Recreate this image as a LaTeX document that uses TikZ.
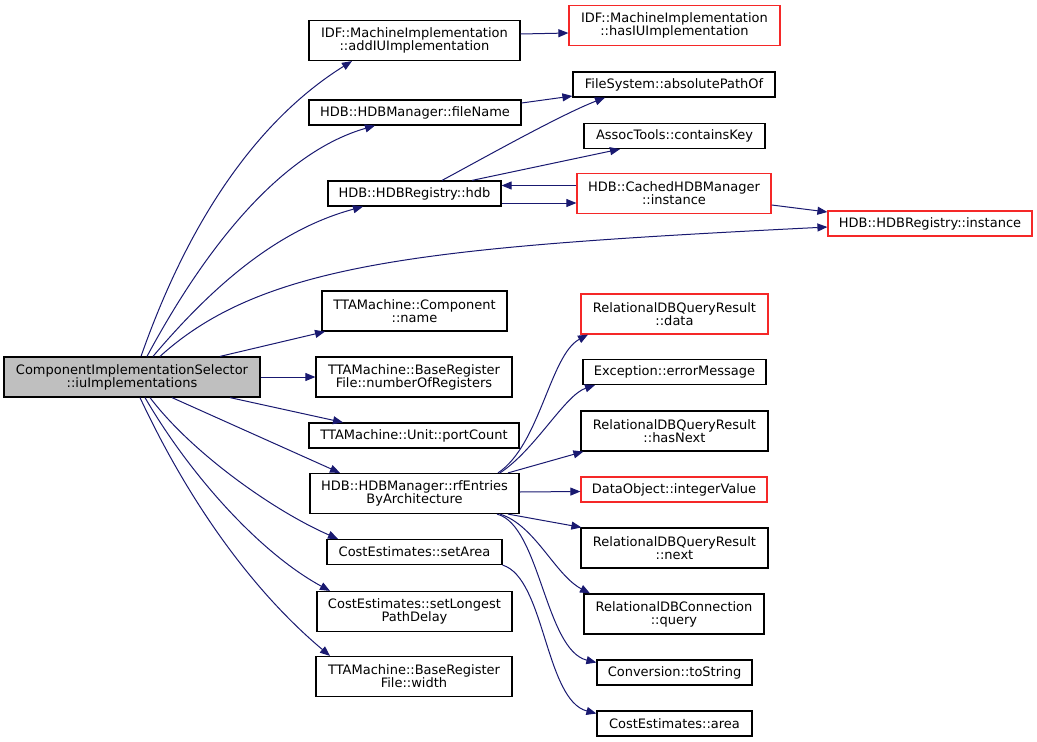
\documentclass[tikz,border=0pt]{standalone}
\usepackage{fontspec}
\setmainfont{DejaVu Sans}
\usepackage{xcolor}
\usetikzlibrary{arrows.meta}
\definecolor{callblue}{RGB}{25,25,112}
\definecolor{selgray}{RGB}{191,191,191}
\definecolor{cutred}{RGB}{245,40,40}
\tikzset{every node/.append style={font=\fontsize{13}{13}\selectfont}}

\begin{document}
\begin{tikzpicture}[x=1pt, y=-1pt, >={Triangle[length=10pt, width=8pt]},
    func/.style={draw, line width=1.2pt, inner sep=0pt, minimum height=25pt, align=center},
    func2/.style={func, minimum height=40pt},
    trunc/.style={draw=cutred},
    call/.style={->, draw=callblue, line width=1pt}]
    \useasboundingbox (0,0) rectangle (1037,742);
    % the function whose calls are shown
    \node[func2, fill=selgray, minimum width=256pt] (main) at (132,377) {ComponentImplementationSelector\\::iuImplementations};
    % direct callees
    \node[func2, minimum width=211pt] (addIU) at (414.5,40.5) {IDF::MachineImplementation\\::addIUImplementation};
    \node[func, minimum width=212pt] (fileName) at (415,112.5) {HDB::HDBManager::fileName};
    \node[func, minimum width=173pt] (hdb) at (414.5,193.5) {HDB::HDBRegistry::hdb};
    \node[func2, minimum width=185pt] (compName) at (414.5,311) {TTAMachine::Component\\::name};
    \node[func2, minimum width=196pt] (numRegs) at (414,377) {TTAMachine::BaseRegister\\File::numberOfRegisters};
    \node[func, minimum width=210pt] (portCount) at (414,435.5) {TTAMachine::Unit::portCount};
    \node[func2, minimum width=209pt] (rfEntries) at (414.5,493.5) {HDB::HDBManager::rfEntries\\ByArchitecture};
    \node[func, minimum width=175pt] (setArea) at (414.5,552) {CostEstimates::setArea};
    \node[func2, minimum width=195pt] (setLPD) at (414.5,611.5) {CostEstimates::setLongest\\PathDelay};
    \node[func2, minimum width=196pt] (width) at (414,676.5) {TTAMachine::BaseRegister\\File::width};
    % second level
    \node[func2, trunc, minimum width=211pt] (hasIU) at (674.5,25.5) {IDF::MachineImplementation\\::hasIUImplementation};
    \node[func, minimum width=202pt] (absPath) at (674,84.5) {FileSystem::absolutePathOf};
    \node[func, minimum width=181pt] (containsKey) at (674.5,136) {AssocTools::containsKey};
    \node[func2, trunc, minimum width=194pt] (cached) at (674,193.5) {HDB::CachedHDBManager\\::instance};
    \node[func, trunc, minimum width=204pt] (reginst) at (930,223.5) {HDB::HDBRegistry::instance};
    \node[func2, trunc, minimum width=187pt] (data) at (674.5,314) {RelationalDBQueryResult\\::data};
    \node[func, minimum width=183pt] (errMsg) at (674.5,372) {Exception::errorMessage};
    \node[func2, minimum width=187pt] (hasNext) at (674.5,431) {RelationalDBQueryResult\\::hasNext};
    \node[func, trunc, minimum width=186pt] (intVal) at (674,489.5) {DataObject::integerValue};
    \node[func2, minimum width=187pt] (next) at (674.5,548) {RelationalDBQueryResult\\::next};
    \node[func2, minimum width=180pt] (query) at (674,614) {RelationalDBConnection\\::query};
    \node[func, minimum width=155pt] (toString) at (674.5,672.5) {Conversion::toString};
    \node[func, minimum width=155pt] (area) at (674.5,723.5) {CostEstimates::area};
    % calls from the selector
    \draw[call] ([xshift=9pt]main.north) .. controls (198,194) and (275,109) .. ([xshift=-62.5pt]addIU.south);
    \draw[call] ([xshift=15pt]main.north) .. controls (215,230) and (290,150) .. ([xshift=-40pt]fileName.south);
    \draw[call] ([xshift=21pt]main.north) .. controls (211,288) and (276,230) .. ([xshift=-51.5pt]hdb.south);
    \draw[call] ([xshift=28pt]main.north) .. controls (264,262) and (428,247) .. ([yshift=-3.5pt]reginst.west);
    \draw[call] ([xshift=88pt]main.north) -- ([xshift=-89.5pt]compName.south);
    \draw[call] (main.east) -- (numRegs.west);
    \draw[call] ([xshift=98pt]main.south) -- ([xshift=-71pt]portCount.north);
    \draw[call] ([xshift=40pt]main.south) -- ([xshift=-74.5pt]rfEntries.north);
    \draw[call] ([xshift=18pt]main.south) .. controls (192,453) and (274,511) .. ([xshift=-76.5pt]setArea.north);
    \draw[call] ([xshift=13pt]main.south) .. controls (190,475) and (260,553) .. ([xshift=-84.5pt]setLPD.north);
    \draw[call] ([xshift=8pt]main.south) .. controls (195,515) and (261,598) .. ([xshift=-84pt]width.north);
    % calls further down
    \draw[call] ([yshift=6.5pt]addIU.east) -- ([yshift=-7.5pt]hasIU.west);
    \draw[call] ([yshift=9.5pt]fileName.east) -- ([yshift=-11.5pt]absPath.west);
    \draw[call] ([xshift=27.5pt]hdb.north) .. controls (480,160) and (560,115) .. ([xshift=-69pt]absPath.south);
    \draw[call] ([xshift=57.5pt]hdb.north) -- ([xshift=-54.5pt]containsKey.south);
    \draw[call] ([yshift=8pt]cached.west) -- ([yshift=8pt]hdb.east);
    \draw[call] ([yshift=-9.5pt]hdb.east) -- ([yshift=-9.5pt]cached.west);
    \draw[call] ([yshift=-11.5pt]cached.east) -- ([yshift=11.5pt]reginst.west);
    \draw[call] ([xshift=83.5pt]rfEntries.north) .. controls (540,445) and (550,355) .. ([xshift=-86.5pt]data.south);
    \draw[call] ([xshift=85.5pt]rfEntries.north) .. controls (535,450) and (565,395) .. ([xshift=-79.5pt]errMsg.south);
    \draw[call] ([xshift=93.5pt]rfEntries.north) -- ([xshift=3pt]hasNext.south west);
    \draw[call] ([yshift=1.5pt]rfEntries.east) -- ([yshift=-2pt]intVal.west);
    \draw[call] ([xshift=93.5pt]rfEntries.south) -- ([xshift=1pt]next.north west);
    \draw[call] ([xshift=85.5pt]rfEntries.south) .. controls (535,525) and (555,575) .. ([xshift=-84pt]query.north);
    \draw[call] ([xshift=82.5pt]rfEntries.south) .. controls (540,525) and (545,650) .. ([yshift=10pt]toString.west);
    \draw[call] (setArea.south east) .. controls (545,578) and (545,700) .. ([yshift=10pt]area.west);
\end{tikzpicture}
\end{document}
